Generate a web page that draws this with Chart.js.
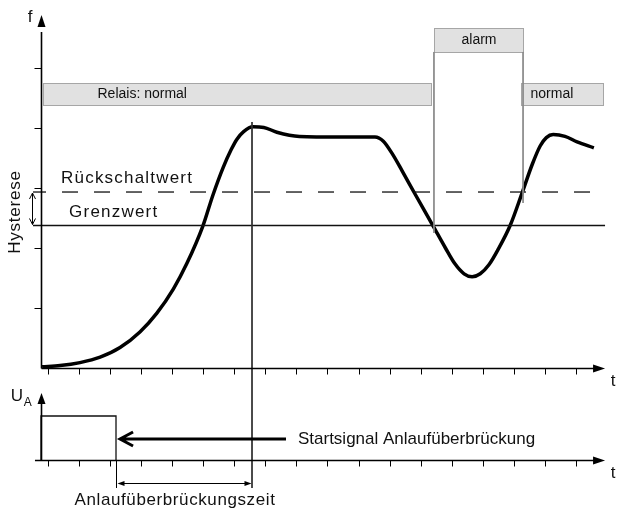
<!DOCTYPE html>
<html>
<head>
<meta charset="utf-8">
<script src="https://cdn.jsdelivr.net/npm/chart.js@4/dist/chart.umd.min.js"></script>
<style>
  html, body { margin: 0; padding: 0; background: #fff; }
  canvas { display: block; }
</style>
</head>
<body>
<canvas id="chart" width="617" height="511"></canvas>
<script>
// time in tick steps, f in tick steps, U_A normalised to 1
const tTicks = [0, 1, 2, 3, 4, 5, 6, 7, 8, 9, 10, 11, 12, 13, 14, 15, 16, 17];
const fTicks = [1, 2, 3, 4, 5];

const curveT = [-0.19, 0.39, 1.03, 1.68, 2.32, 2.96, 3.50, 4.04, 4.47, 4.99, 5.31, 5.64, 5.90, 6.08, 6.30, 6.60,
  6.95, 7.37, 8.10, 9.40, 10.53, 10.80, 11.10, 11.40, 11.82, 12.40, 12.80, 13.10, 13.40, 13.66, 13.92, 14.20,
  14.50, 14.88, 15.27, 15.60, 15.85, 16.05, 16.27, 16.65, 17.04, 17.58];
const curveF = [0.02, 0.04, 0.09, 0.18, 0.34, 0.60, 0.91, 1.32, 1.74, 2.37, 2.88, 3.34, 3.64, 3.81, 3.94, 4.02,
  4.01, 3.93, 3.86, 3.85, 3.85, 3.78, 3.56, 3.29, 2.90, 2.37, 2.00, 1.74, 1.57, 1.52, 1.57, 1.72,
  1.98, 2.37, 2.92, 3.40, 3.70, 3.84, 3.89, 3.86, 3.77, 3.67];

const grenzwert = 2.375;
const rueckschaltwert = 2.933;

const relaisLabels = ["Relais: normal", "alarm", "normal"];
const relaisFrom = [-0.16, 12.43, 15.23];
const relaisTo = [12.34, 15.30, 17.87];

const startT = [-0.225, -0.225, 2.19, 2.19];
const startU = [0, 1, 1, 0];
const bridgeEnd = 6.57;

const FONT = '"Liberation Sans", Arial, sans-serif';

function pts(xs, ys) {
  return xs.map((v, i) => ({ x: v, y: ys[i] }));
}

function line(data, opts) {
  return Object.assign({
    data: data,
    showLine: true,
    pointRadius: 0,
    borderColor: '#111',
    borderWidth: 1.3,
    fill: false,
    clip: false,
    yAxisID: 'y'
  }, opts || {});
}

function arrowHead(ctx, x, y, dir, len, half) {
  // filled triangle, dir: 'up', 'right', 'left'
  ctx.beginPath();
  ctx.moveTo(x, y);
  if (dir === 'up') { ctx.lineTo(x - half, y + len); ctx.lineTo(x + half, y + len); }
  if (dir === 'right') { ctx.lineTo(x - len, y - half); ctx.lineTo(x - len, y + half); }
  if (dir === 'left') { ctx.lineTo(x + len, y - half); ctx.lineTo(x + len, y + half); }
  ctx.closePath();
  ctx.fill();
}

const diagram = {
  id: 'diagram',
  beforeDatasetsDraw(chart) {
    const { ctx, scales: { x, y } } = chart;
    const px = v => Math.round(x.getPixelForValue(v)) + 0.5;
    const py = v => Math.round(y.getPixelForValue(v)) + 0.5;
    ctx.save();
    ctx.lineWidth = 1;
    ctx.strokeStyle = '#a6a6a6';
    ctx.fillStyle = '#e1e1e1';
    relaisFrom.forEach((t0, i) => {
      const x0 = px(t0), x1 = px(relaisTo[i]);
      let top = py(4.75), bot = py(4.383);
      if (relaisLabels[i] === 'alarm') { top = py(5.667); bot = py(5.267); }
      ctx.fillRect(x0, top, x1 - x0, bot - top);
      ctx.strokeRect(x0, top, x1 - x0, bot - top);
      ctx.fillStyle = '#111';
      ctx.font = '14px ' + FONT;
      ctx.textBaseline = 'middle';
      if (relaisLabels[i] === 'alarm') {
        ctx.textAlign = 'center';
        ctx.fillText(relaisLabels[i], (x0 + x1) / 2, (top + bot) / 2);
      } else {
        ctx.textAlign = 'left';
        ctx.fillText(relaisLabels[i], x0 + (i === 0 ? 54 : 9), (top + bot) / 2);
      }
      ctx.fillStyle = '#e1e1e1';
    });
    ctx.restore();
  },
  afterDatasetsDraw(chart) {
    const { ctx, scales: { x, y, u } } = chart;
    const X = v => x.getPixelForValue(v);
    const Y = v => y.getPixelForValue(v);
    const U = v => u.getPixelForValue(v);
    const cx = v => Math.round(X(v)) + 0.5;
    ctx.save();
    ctx.strokeStyle = '#000';
    ctx.fillStyle = '#000';

    // top axes
    const ax = cx(-0.225);
    const y0 = Math.round(Y(0)) + 0.5;
    ctx.lineWidth = 1.6;
    ctx.beginPath();
    ctx.moveTo(ax, y0); ctx.lineTo(ax, Y(5.6));
    ctx.moveTo(ax, y0); ctx.lineTo(X(17.6), y0);
    ctx.stroke();
    arrowHead(ctx, ax, Y(5.883), 'up', 12, 4);
    arrowHead(ctx, X(17.94), y0, 'right', 12, 4);

    // bottom axes
    const u0 = Math.round(U(0)) + 0.5;
    ctx.beginPath();
    ctx.moveTo(ax, u0); ctx.lineTo(ax, U(1.3));
    ctx.moveTo(X(-0.42), u0); ctx.lineTo(X(17.6), u0);
    ctx.stroke();
    arrowHead(ctx, ax, U(1.523), 'up', 11, 4);
    arrowHead(ctx, X(17.94), u0, 'right', 12, 4);

    // ticks
    ctx.lineWidth = 1;
    ctx.beginPath();
    tTicks.forEach(t => {
      ctx.moveTo(cx(t), y0); ctx.lineTo(cx(t), y0 + 6);
      ctx.moveTo(cx(t), u0); ctx.lineTo(cx(t), u0 + 6);
    });
    fTicks.forEach(f => {
      const yy = Math.round(Y(f)) + 0.5;
      ctx.moveTo(ax - 7, yy); ctx.lineTo(ax, yy);
    });
    ctx.stroke();

    // hysteresis arrow
    const hx = cx(-0.515);
    const hTop = Y(rueckschaltwert) + 1, hBot = Y(grenzwert) - 1;
    ctx.beginPath();
    ctx.moveTo(hx, hTop); ctx.lineTo(hx, hBot);
    ctx.moveTo(hx - 3, hTop + 6); ctx.lineTo(hx, hTop); ctx.lineTo(hx + 3, hTop + 6);
    ctx.moveTo(hx - 3, hBot - 6); ctx.lineTo(hx, hBot); ctx.lineTo(hx + 3, hBot - 6);
    ctx.stroke();

    // start signal arrow
    const ay = U(0.477);
    ctx.lineWidth = 3;
    ctx.beginPath();
    ctx.moveTo(X(7.665), ay); ctx.lineTo(X(2.32) + 2, ay);
    ctx.moveTo(X(2.32) + 13, ay - 7); ctx.lineTo(X(2.32), ay); ctx.lineTo(X(2.32) + 13, ay + 7);
    ctx.stroke();

    // bridging time dimension
    const dy = Math.round(U(-0.523)) + 0.5;
    const d0 = cx(2.19), d1 = cx(bridgeEnd);
    ctx.lineWidth = 1;
    ctx.beginPath();
    ctx.moveTo(d0, u0); ctx.lineTo(d0, U(-0.636));
    ctx.moveTo(d0 + 3, dy); ctx.lineTo(d1 - 3, dy);
    ctx.stroke();
    arrowHead(ctx, d0 + 1, dy, 'left', 7, 2.5);
    arrowHead(ctx, d1 - 1, dy, 'right', 7, 2.5);

    // texts
    ctx.fillStyle = '#111';
    ctx.textBaseline = 'middle';
    ctx.textAlign = 'left';
    ctx.font = '17px ' + FONT;
    ctx.letterSpacing = '1.2px';
    ctx.fillText('Rückschaltwert', X(0.42), Y(3.167));
    ctx.fillText('Grenzwert', X(0.68), Y(2.6));
    ctx.letterSpacing = '0px';
    ctx.fillText('Startsignal Anlaufüberbrückung', X(8.05), ay);
    ctx.textAlign = 'center';
    ctx.letterSpacing = '0.6px';
    ctx.fillText('Anlaufüberbrückungszeit', X(4.09), U(-0.909));
    ctx.letterSpacing = '0px';
    ctx.fillText('f', X(-0.58), Y(5.85));
    ctx.fillText('t', X(18.2), Y(-0.217));
    ctx.fillText('t', X(18.2), U(-0.295));
    ctx.textAlign = 'left';
    ctx.fillText('U', X(-1.2), U(1.45));
    ctx.font = '12px ' + FONT;
    ctx.fillText('A', X(-0.78), U(1.3));

    // rotated axis title
    ctx.save();
    ctx.translate(X(-1.063), Y(2.6));
    ctx.rotate(-Math.PI / 2);
    ctx.textAlign = 'center';
    ctx.font = '17px ' + FONT;
    ctx.letterSpacing = '0.8px';
    ctx.fillText('Hysterese', 0, 0);
    ctx.restore();

    ctx.restore();
  }
};

new Chart(document.getElementById('chart'), {
  type: 'scatter',
  data: {
    datasets: [
      // alarm box side lines
      line([{ x: relaisFrom[1], y: 5.267 }, { x: relaisFrom[1], y: 2.25 }], { borderColor: '#8a8a8a', borderWidth: 1 }),
      line([{ x: relaisTo[1], y: 5.267 }, { x: relaisTo[1], y: 2.75 }], { borderColor: '#8a8a8a', borderWidth: 1 }),
      // end of bridging time marker
      line([{ x: bridgeEnd, y: 4.1 }, { x: bridgeEnd, y: -2.0 }], { borderColor: '#333', borderWidth: 1 }),
      line([{ x: -0.483, y: rueckschaltwert }, { x: 17.94, y: rueckschaltwert }], { borderDash: [16, 16], borderDashOffset: 3 }),
      line([{ x: -0.483, y: grenzwert }, { x: 17.94, y: grenzwert }]),
      line(pts(startT, startU), { yAxisID: 'u', borderWidth: 1.3 }),
      line(pts(curveT, curveF), { borderWidth: 3.5, borderColor: '#000', cubicInterpolationMode: 'monotone' })
    ]
  },
  options: {
    responsive: false,
    animation: false,
    events: [],
    layout: { padding: 0 },
    plugins: { legend: { display: false }, tooltip: { enabled: false } },
    scales: {
      x: { type: 'linear', display: false, min: -1.546, max: 18.325 },
      y: { type: 'linear', display: false, min: -2.3833, max: 6.1333 },
      u: { type: 'linear', display: false, position: 'right', min: -1.159, max: 10.4545 }
    }
  },
  plugins: [diagram]
});
</script>
</body>
</html>
